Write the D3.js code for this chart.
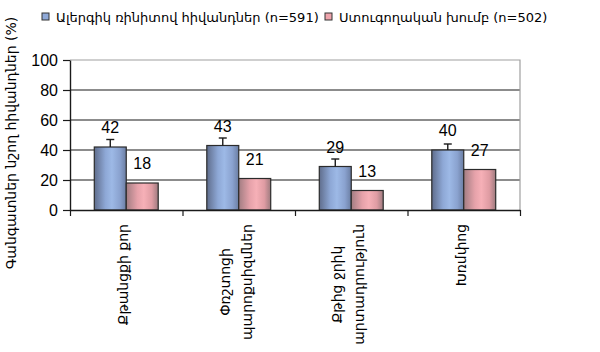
<!DOCTYPE html>
<html>
<head>
<meta charset="utf-8">
<script src="https://cdn.jsdelivr.net/npm/d3@7"></script>
<style>
  body { margin: 0; background: #fff; }
  text { font-family: "Liberation Sans", "DejaVu Sans", sans-serif; fill: #000; }
  .arm { font-family: "DejaVu Sans", sans-serif; }
</style>
</head>
<body>
<div id="chart"></div>
<script>
// data
var categories = [["Քթանցքի քոր"], ["Փռշտոցի", "պարոքսիզմներ"], ["Քթից ջրիկ", "արտադրություն"], ["Խռմփոց"]]
var patients = [42, 43, 29, 40]
var patientsErrTop = [47, 48, 34, 44] // upper end of the error bars
var controls = [18, 21, 13, 27]
var yTicks = [0, 20, 40, 60, 80, 100]
var seriesNames = ["Ալերգիկ ռինիտով հիվանդներ (n=591)", "Ստուգողական խումբ (n=502)"]
var yTitle = "Գանգատներ նշող հիվանդներ (%)"

var width = 600,
    height = 352
var plot = {left: 70, right: 520, top: 60, bottom: 210}

var svg = d3.select("#chart").append("svg")
    .attr("width", width)
    .attr("height", height)

// gradients, cylinder-like shading
var defs = svg.append("defs")
function grad(id, stops) {
  var g = defs.append("linearGradient").attr("id", id)
      .attr("x1", "0%").attr("x2", "100%").attr("y1", "0%").attr("y2", "0%")
  stops.forEach(function(s) {
    g.append("stop").attr("offset", s[0]).attr("stop-color", s[1])
  })
}
grad("gBlue", [["0%", "#5f6d8c"], ["35%", "#8ea8d6"], ["55%", "#9db9e6"], ["80%", "#8aa2cf"], ["100%", "#6b7ea3"]])
grad("gPink", [["0%", "#a27d82"], ["35%", "#e6a2aa"], ["55%", "#f6b0b7"], ["80%", "#df9ca3"], ["100%", "#9e7b7f"]])

var idx = d3.range(categories.length)
var x0 = d3.scaleBand().domain(idx).range([plot.left, plot.right]).padding(0)
var x1 = d3.scaleBand().domain([0, 1]).range([0, x0.bandwidth()]).paddingInner(0).paddingOuter(0.76)
var xEdge = d3.scaleLinear().domain([0, categories.length]).range([plot.left, plot.right])
var y = d3.scaleLinear().domain([0, 100]).range([plot.bottom, plot.top])

// grid lines
svg.append("g").selectAll("line")
    .data(yTicks.filter(function(d) { return d > 0 && d < 100 }))
    .enter().append("line")
    .attr("x1", plot.left).attr("x2", plot.right)
    .attr("y1", function(d) { return y(d) }).attr("y2", function(d) { return y(d) })
    .attr("stroke", "#1a1a1a").attr("stroke-width", 1.2)

// plot border top/right (grey)
svg.append("path")
    .attr("d", "M" + plot.left + "," + y(100) + "H" + plot.right + "V" + plot.bottom)
    .attr("fill", "none").attr("stroke", "#a0a0a0").attr("stroke-width", 1.2)

// bars
var series = [
  {vals: patients, fill: "url(#gBlue)"},
  {vals: controls, fill: "url(#gPink)"}
]
series.forEach(function(s, si) {
  svg.append("g").selectAll("rect")
      .data(s.vals)
      .enter().append("rect")
      .attr("x", function(d, i) { return x0(i) + x1(si) })
      .attr("y", function(d) { return y(d) })
      .attr("width", x1.bandwidth())
      .attr("height", function(d) { return y(0) - y(d) })
      .attr("fill", s.fill)
      .attr("stroke", "#2b2b2b").attr("stroke-width", 1.2)
})

// error bars on the patient bars
var eb = svg.append("g")
patients.forEach(function(v, i) {
  var cx = x0(i) + x1(0) + x1.bandwidth() / 2
  eb.append("line").attr("x1", cx).attr("x2", cx)
      .attr("y1", y(v)).attr("y2", y(patientsErrTop[i]))
      .attr("stroke", "#1a1a1a").attr("stroke-width", 1.4)
  eb.append("line").attr("x1", cx - 4).attr("x2", cx + 4)
      .attr("y1", y(patientsErrTop[i])).attr("y2", y(patientsErrTop[i]))
      .attr("stroke", "#1a1a1a").attr("stroke-width", 1.4)
})

// value labels
series.forEach(function(s, si) {
  svg.append("g").selectAll("text")
      .data(s.vals)
      .enter().append("text")
      .attr("x", function(d, i) { return x0(i) + x1(si) + x1.bandwidth() / 2 })
      .attr("y", function(d) { return y(d) - 14 })
      .attr("text-anchor", "middle")
      .style("font-size", "16px")
      .text(function(d) { return d })
})

// y axis
var yAxis = svg.append("g")
    .attr("transform", "translate(" + plot.left + ",0)")
    .call(d3.axisLeft(y).tickValues(yTicks).tickSize(7).tickSizeOuter(0).tickPadding(5))
yAxis.select(".domain").attr("stroke", "#1a1a1a").attr("stroke-width", 1.4)
yAxis.selectAll(".tick line").attr("stroke", "#1a1a1a").attr("stroke-width", 1.2)
yAxis.selectAll(".tick text").style("font-size", "16px").style("font-family", "Liberation Sans, sans-serif")

// x axis with ticks between categories
var xAxis = svg.append("g")
    .attr("transform", "translate(0," + plot.bottom + ")")
    .call(d3.axisBottom(xEdge).ticks(categories.length).tickSize(6).tickSizeOuter(0).tickFormat(""))
xAxis.select(".domain").attr("stroke", "#1a1a1a").attr("stroke-width", 1.4)
xAxis.selectAll(".tick line").attr("stroke", "#1a1a1a").attr("stroke-width", 1.2)

// category labels, rotated, ending at the axis
var labelTop = plot.bottom + 14
var lineGap = 22
categories.forEach(function(lines, i) {
  var cx = x0(i) + x0.bandwidth() / 2 - 3
  var g = svg.append("g")
  var ts = lines.map(function(l, li) {
    return g.append("text").attr("class", "arm")
        .attr("text-anchor", "middle")
        .attr("dy", "0.35em")
        .style("font-size", "14px")
        .text(l)
  })
  var maxLen = d3.max(ts, function(t) { return t.node().getComputedTextLength() })
  ts.forEach(function(t, li) {
    var lx = cx + (li - (lines.length - 1) / 2) * lineGap
    var ly = labelTop + maxLen / 2
    t.attr("transform", "translate(" + lx + "," + ly + ") rotate(-90)")
  })
})

// y title
svg.append("text").attr("class", "arm")
    .attr("transform", "translate(11,143) rotate(-90)")
    .attr("text-anchor", "middle")
    .attr("dy", "0.35em")
    .style("font-size", "14px")
    .text(yTitle)

// legend
var legend = svg.append("g")
var legX = [42, 325]
var legFill = ["#8fa9d8", "#eea4ac"]
seriesNames.forEach(function(name, i) {
  legend.append("rect")
      .attr("x", legX[i]).attr("y", 13)
      .attr("width", 7).attr("height", 7)
      .attr("fill", legFill[i]).attr("stroke", "#333").attr("stroke-width", 1)
  legend.append("text").attr("class", "arm")
      .attr("x", legX[i] + 14).attr("y", 21.5)
      .style("font-size", "13px")
      .text(name)
})
</script>
</body>
</html>
